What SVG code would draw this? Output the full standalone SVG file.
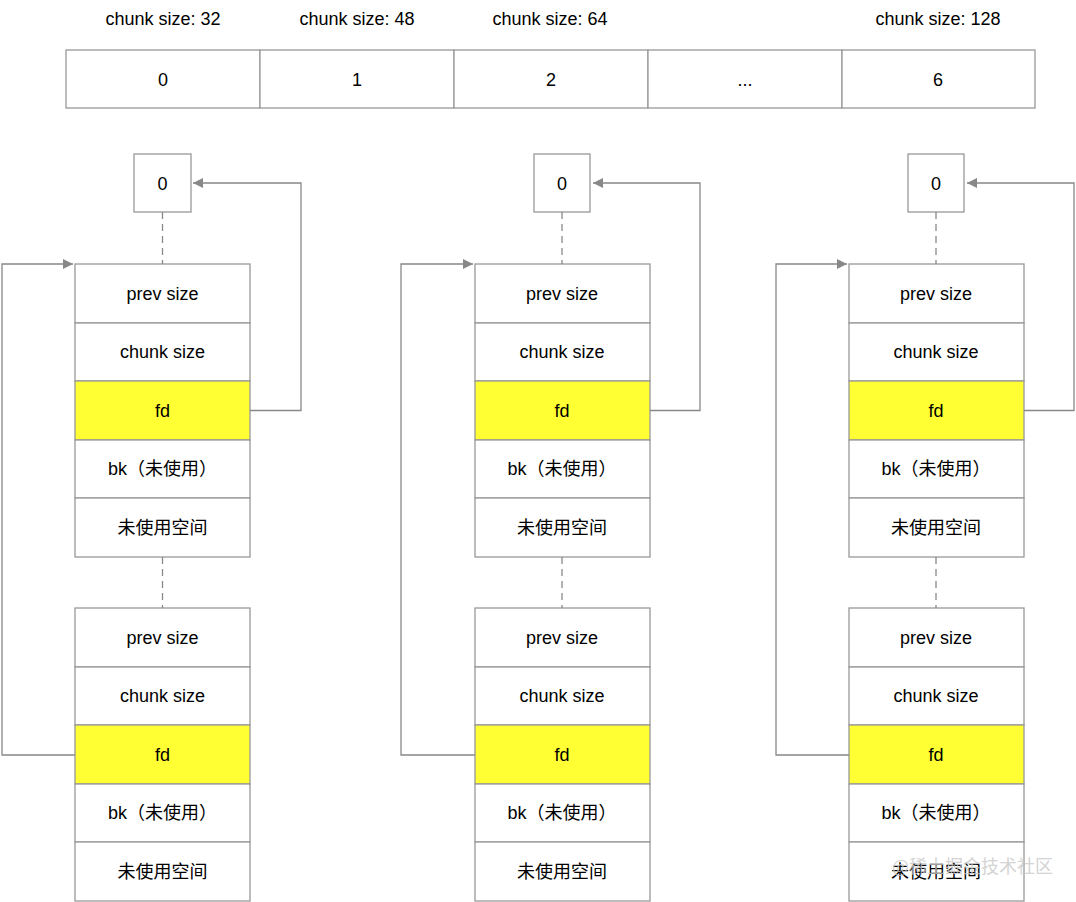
<svg xmlns="http://www.w3.org/2000/svg" width="1076" height="902" viewBox="0 0 1076 902">
<style>
.cell{fill:#fff;stroke:#999;stroke-width:1.3}
.hl{fill:#ffff33;stroke:#999;stroke-width:1.3}
.t{font-family:"Liberation Sans","Noto Sans CJK SC",sans-serif;font-size:18px;fill:#000;text-anchor:middle;dominant-baseline:central}
.dash{stroke:#888;stroke-width:1.3;stroke-dasharray:7 5;fill:none}
.conn{stroke:#888;stroke-width:1.3;fill:none}
.wm{font-family:"Noto Sans CJK SC",sans-serif;font-size:18px;fill:#c8c8c8;fill-opacity:0.8}
</style>
<defs>
<marker id="ah" viewBox="0 0 10 10" refX="10" refY="5" markerWidth="10" markerHeight="10" markerUnits="userSpaceOnUse" orient="auto">
<path d="M0,0 L10,5 L0,10 z" fill="#888"/>
</marker>
</defs>
<rect width="1076" height="902" fill="#fff"/>

<g id="bins">
<text class="t" x="163" y="19">chunk size: 32</text>
<text class="t" x="357" y="19">chunk size: 48</text>
<text class="t" x="550" y="19">chunk size: 64</text>
<text class="t" x="938" y="19">chunk size: 128</text>
<rect class="cell" x="66" y="50" width="194" height="58"/>
<rect class="cell" x="260" y="50" width="194" height="58"/>
<rect class="cell" x="454" y="50" width="194" height="58"/>
<rect class="cell" x="648" y="50" width="194" height="58"/>
<rect class="cell" x="842" y="50" width="193" height="58"/>
<text class="t" x="163" y="80">0</text>
<text class="t" x="357" y="80">1</text>
<text class="t" x="551" y="80">2</text>
<text class="t" x="745" y="80">...</text>
<text class="t" x="938" y="80">6</text>
</g>

<g id="col1">
<g id="col1-null"><rect class="cell" x="134" y="154" width="57" height="58"/><text class="t" x="162.5" y="184">0</text></g>
<g id="col1-chunkA">
<rect class="cell" x="75" y="264" width="175" height="59"/><text class="t" x="162.5" y="294">prev size</text>
<rect class="cell" x="75" y="323" width="175" height="58"/><text class="t" x="162.5" y="352">chunk size</text>
<rect class="hl" x="75" y="381" width="175" height="59"/><text class="t" x="162.5" y="411">fd</text>
<rect class="cell" x="75" y="440" width="175" height="58"/><text class="t" x="162.5" y="469">bk（未使用）</text>
<rect class="cell" x="75" y="498" width="175" height="59"/><text class="t" x="162.5" y="528">未使用空间</text>
</g>
<g id="col1-chunkB">
<rect class="cell" x="75" y="608" width="175" height="59"/><text class="t" x="162.5" y="638">prev size</text>
<rect class="cell" x="75" y="667" width="175" height="58"/><text class="t" x="162.5" y="696">chunk size</text>
<rect class="hl" x="75" y="725" width="175" height="59"/><text class="t" x="162.5" y="755">fd</text>
<rect class="cell" x="75" y="784" width="175" height="58"/><text class="t" x="162.5" y="813">bk（未使用）</text>
<rect class="cell" x="75" y="842" width="175" height="59"/><text class="t" x="162.5" y="872">未使用空间</text>
</g>
</g>

<g id="col2">
<g id="col2-null"><rect class="cell" x="534" y="154" width="56" height="58"/><text class="t" x="562" y="184">0</text></g>
<g id="col2-chunkA">
<rect class="cell" x="475" y="264" width="175" height="59"/><text class="t" x="562" y="294">prev size</text>
<rect class="cell" x="475" y="323" width="175" height="58"/><text class="t" x="562" y="352">chunk size</text>
<rect class="hl" x="475" y="381" width="175" height="59"/><text class="t" x="562" y="411">fd</text>
<rect class="cell" x="475" y="440" width="175" height="58"/><text class="t" x="562" y="469">bk（未使用）</text>
<rect class="cell" x="475" y="498" width="175" height="59"/><text class="t" x="562" y="528">未使用空间</text>
</g>
<g id="col2-chunkB">
<rect class="cell" x="475" y="608" width="175" height="59"/><text class="t" x="562" y="638">prev size</text>
<rect class="cell" x="475" y="667" width="175" height="58"/><text class="t" x="562" y="696">chunk size</text>
<rect class="hl" x="475" y="725" width="175" height="59"/><text class="t" x="562" y="755">fd</text>
<rect class="cell" x="475" y="784" width="175" height="58"/><text class="t" x="562" y="813">bk（未使用）</text>
<rect class="cell" x="475" y="842" width="175" height="59"/><text class="t" x="562" y="872">未使用空间</text>
</g>
</g>

<g id="col3">
<g id="col3-null"><rect class="cell" x="908" y="154" width="56" height="58"/><text class="t" x="936" y="184">0</text></g>
<g id="col3-chunkA">
<rect class="cell" x="849" y="264" width="175" height="59"/><text class="t" x="936" y="294">prev size</text>
<rect class="cell" x="849" y="323" width="175" height="58"/><text class="t" x="936" y="352">chunk size</text>
<rect class="hl" x="849" y="381" width="175" height="59"/><text class="t" x="936" y="411">fd</text>
<rect class="cell" x="849" y="440" width="175" height="58"/><text class="t" x="936" y="469">bk（未使用）</text>
<rect class="cell" x="849" y="498" width="175" height="59"/><text class="t" x="936" y="528">未使用空间</text>
</g>
<g id="col3-chunkB">
<rect class="cell" x="849" y="608" width="175" height="59"/><text class="t" x="936" y="638">prev size</text>
<rect class="cell" x="849" y="667" width="175" height="58"/><text class="t" x="936" y="696">chunk size</text>
<rect class="hl" x="849" y="725" width="175" height="59"/><text class="t" x="936" y="755">fd</text>
<rect class="cell" x="849" y="784" width="175" height="58"/><text class="t" x="936" y="813">bk（未使用）</text>
<rect class="cell" x="849" y="842" width="175" height="59"/><text class="t" x="936" y="872">未使用空间</text>
</g>
</g>

<g id="connectors">
<line class="dash" x1="162.5" y1="212" x2="162.5" y2="264"/>
<line class="dash" x1="162.5" y1="557" x2="162.5" y2="608"/>
<line class="dash" x1="562" y1="212" x2="562" y2="264"/>
<line class="dash" x1="562" y1="557" x2="562" y2="608"/>
<line class="dash" x1="936" y1="212" x2="936" y2="264"/>
<line class="dash" x1="936" y1="557" x2="936" y2="608"/>
<path class="conn" d="M250,410.5 H301 V183 H193" marker-end="url(#ah)"/>
<path class="conn" d="M75,755 H2 V264 H73" marker-end="url(#ah)"/>
<path class="conn" d="M650,410.5 H700 V183 H593" marker-end="url(#ah)"/>
<path class="conn" d="M475,755 H401 V264 H473" marker-end="url(#ah)"/>
<path class="conn" d="M1024,410.5 H1074 V183 H967" marker-end="url(#ah)"/>
<path class="conn" d="M849,755 H776 V264 H847" marker-end="url(#ah)"/>
</g>

<text class="wm" x="892" y="873">@稀土掘金技术社区</text>
</svg>
